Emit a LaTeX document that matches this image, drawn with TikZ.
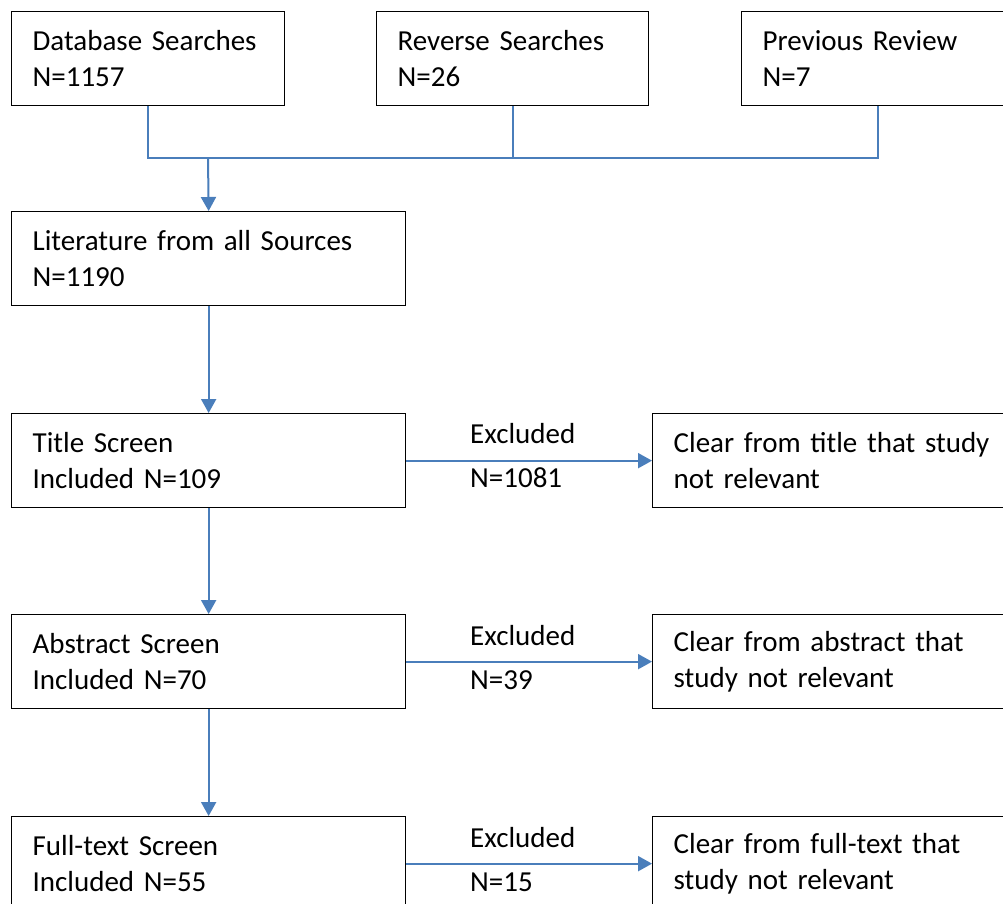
\documentclass[tikz,border=0pt]{standalone}
\usepackage{fontspec}
\setmainfont{Carlito}
\usetikzlibrary{arrows.meta}
\definecolor{linkblue}{HTML}{4A7EBB}
\tikzset{
  box/.style={draw=black, line width=1.3pt, anchor=north west, align=left,
    inner xsep=21pt, inner ysep=0pt, minimum height=94pt,
    font=\fontsize{29}{35.5}\selectfont},
  conn/.style={draw=linkblue, line width=2pt},
  arr/.style={conn, -{Triangle[width=15pt,length=14pt]}},
  lbl/.style={anchor=west, inner sep=0pt, font=\fontsize{29}{35.5}\selectfont}
}
\begin{document}
\begin{tikzpicture}[x=1pt,y=1pt]
\useasboundingbox (0,0) rectangle (1003,-903);
\clip (0,0) rectangle (1003,-903);
\fill[white] (0,0) rectangle (1003,-903);
\node[box, text width=231pt] (db) at (11,-11) {Database Searches\\N=1157};
\node[box, text width=230pt] (rev) at (376,-11) {Reverse Searches\\N=26};
\node[box, text width=230pt] (prev) at (741,-11) {Previous Review\\N=7};
\node[box, text width=352pt] (lit) at (11,-211) {Literature from all Sources\\N=1190};
\node[box, text width=352pt] (title) at (11,-413) {Title Screen\\Included N=109};
\node[box, text width=352pt] (ctitle) at (652,-413) {Clear from title that study\\not relevant};
\node[box, text width=352pt] (abs) at (11,-614) {Abstract Screen\\Included N=70};
\node[box, text width=352pt] (cabs) at (652,-614) {Clear from abstract that\\study not relevant};
\node[box, text width=352pt] (full) at (11,-816) {Full-text Screen\\Included N=55};
\node[box, text width=352pt] (cfull) at (652,-816) {Clear from full-text that\\study not relevant};
\coordinate (j) at (208,-158);
\draw[conn] (db.south) -- (db.south |- j) -- (prev.south |- j) -- (prev.south);
\draw[conn] (rev.south) -- (rev.south |- j);
\draw[arr] (j) -- (lit.north);
\draw[arr] (lit.south) -- (title.north);
\draw[arr] (title.south) -- (abs.north);
\draw[arr] (abs.south) -- (full.north);
\draw[arr] (title.east) -- (ctitle.west);
\draw[arr] (abs.east) -- (cabs.west);
\draw[arr] (full.east) -- (cfull.west);
\node[lbl] (ex1) at (470,-434) {Excluded};
\node[lbl] (n1) at (470,-478) {N=1081};
\node[lbl] (ex2) at (470,-636) {Excluded};
\node[lbl] (n2) at (470,-680) {N=39};
\node[lbl] (ex3) at (470,-838) {Excluded};
\node[lbl] (n3) at (470,-882) {N=15};
\end{tikzpicture}
\end{document}
